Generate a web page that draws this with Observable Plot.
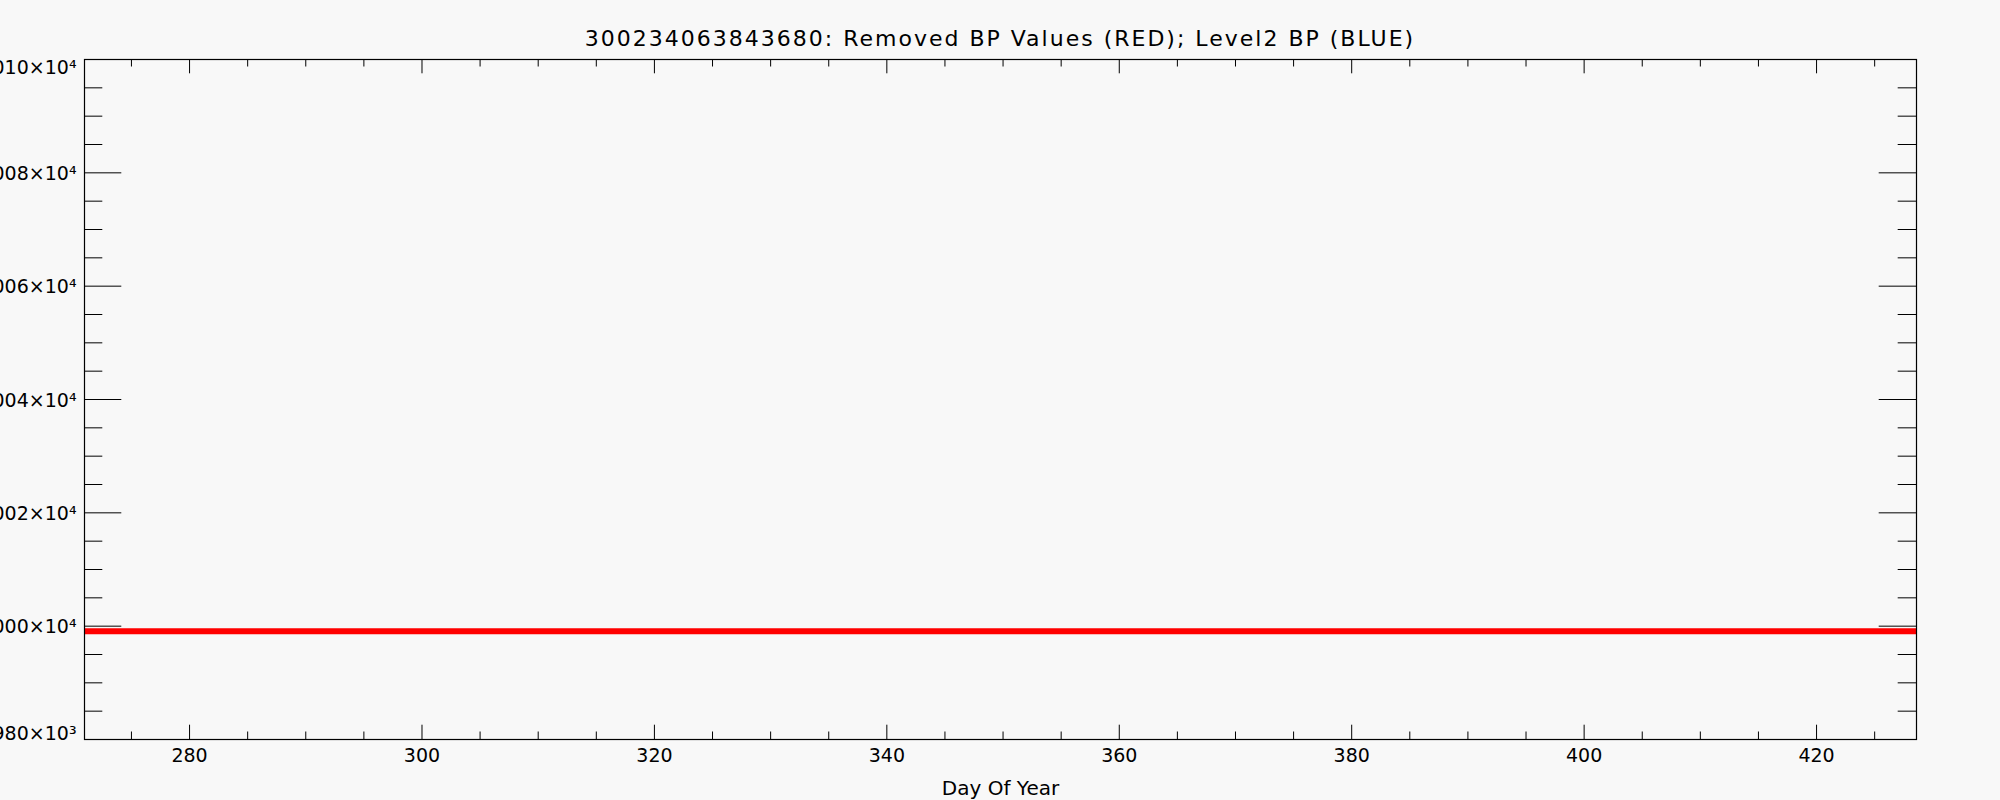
<!DOCTYPE html>
<html>
<head>
<meta charset="utf-8">
<script src="https://cdn.jsdelivr.net/npm/d3@7"></script>
<script src="https://cdn.jsdelivr.net/npm/@observablehq/plot@0.6"></script>
<style>
  html, body { margin: 0; padding: 0; background: #f8f8f8; }
  #title { height: 50px; width: 2000px; position: relative; font-family: "DejaVu Sans", sans-serif; }
  #title span { position: absolute; left: 0; width: 2000px; text-align: center; top: 26px; font-size: 22px; letter-spacing: 2px; line-height: 26px; color: #000; }
</style>
</head>
<body>
<div id="title"><span>300234063843680: Removed BP Values (RED); Level2 BP (BLUE)</span></div>
<div id="chart"></div>
<script>
// Data
const days = [270.96, 280, 290, 300, 310, 320, 330, 340, 350, 360, 370, 380, 390, 400, 410, 420, 428.6];
const removedBP = [9999.1, 9999.1, 9999.1, 9999.1, 9999.1, 9999.1, 9999.1, 9999.1, 9999.1, 9999.1, 9999.1, 9999.1, 9999.1, 9999.1, 9999.1, 9999.1, 9999.1];

// Axis ticks
const xMajor = [280, 300, 320, 340, 360, 380, 400, 420];
const xMinor = [275, 285, 290, 295, 305, 310, 315, 325, 330, 335, 345, 350, 355, 365, 370, 375, 385, 390, 395, 405, 410, 415, 425];
const yMajor = [9980, 10000, 10020, 10040, 10060, 10080, 10100];
const yLabels = ["9.980×10³", "1.000×10⁴", "1.002×10⁴", "1.004×10⁴", "1.006×10⁴", "1.008×10⁴", "1.010×10⁴"];
const yMinor = [9985, 9990, 9995, 10005, 10010, 10015, 10025, 10030, 10035, 10045, 10050, 10055, 10065, 10070, 10075, 10085, 10090, 10095];

const series = days.map((d, i) => ({day: d, bp: removedBP[i]}));

const W = 2000, H = 750, mL = 84, mR = 84, mT = 9, mB = 61;
const fw = W - mL - mR, fh = H - mT - mB;
const labelOf = v => yLabels[yMajor.indexOf(v)];

const chart = Plot.plot({
  width: W, height: H,
  marginLeft: mL, marginRight: mR, marginTop: mT, marginBottom: mB,
  style: {background: "#f8f8f8", fontFamily: "DejaVu Sans, sans-serif", fontSize: "19px", color: "#000"},
  x: {domain: [270.96, 428.6]},
  y: {domain: [9980, 10100]},
  marks: [
    Plot.line(series, {x: "day", y: "bp", stroke: "#ff0000", strokeWidth: 6, strokeLinecap: "butt", clip: true}),
    Plot.frame({stroke: "#000", strokeWidth: 1.2}),
    // x ticks (inside, bottom and top)
    Plot.tickX(xMajor, {x: d => d, stroke: "#000", insetTop: fh - 14.3}),
    Plot.tickX(xMajor, {x: d => d, stroke: "#000", insetBottom: fh - 14.3}),
    Plot.tickX(xMinor, {x: d => d, stroke: "#000", insetTop: fh - 7.5}),
    Plot.tickX(xMinor, {x: d => d, stroke: "#000", insetBottom: fh - 7.5}),
    // y ticks (inside, left and right)
    Plot.tickY(yMajor, {y: d => d, stroke: "#000", insetRight: fw - 37.3}),
    Plot.tickY(yMajor, {y: d => d, stroke: "#000", insetLeft: fw - 37.3}),
    Plot.tickY(yMinor, {y: d => d, stroke: "#000", insetRight: fw - 18.3}),
    Plot.tickY(yMinor, {y: d => d, stroke: "#000", insetLeft: fw - 18.3}),
    // axis labels
    Plot.axisX(xMajor, {tickSize: 0, tickPadding: 9, fontSize: 19, label: null}),
    Plot.axisY(yMajor.slice(1, -1), {tickSize: 0, tickPadding: 8, tickFormat: labelOf, fontSize: 19, label: null, dy: 1}),
    Plot.axisY([yMajor[yMajor.length - 1]], {tickSize: 0, tickPadding: 8, tickFormat: labelOf, fontSize: 19, label: null, dy: 8}),
    Plot.axisY([yMajor[0]], {tickSize: 0, tickPadding: 8, tickFormat: labelOf, fontSize: 19, label: null, dy: -6}),
    Plot.text(["Day Of Year"], {frameAnchor: "bottom", dy: 55, fontSize: 20, text: d => d})
  ]
});
document.getElementById("chart").appendChild(chart);
</script>
</body>
</html>
